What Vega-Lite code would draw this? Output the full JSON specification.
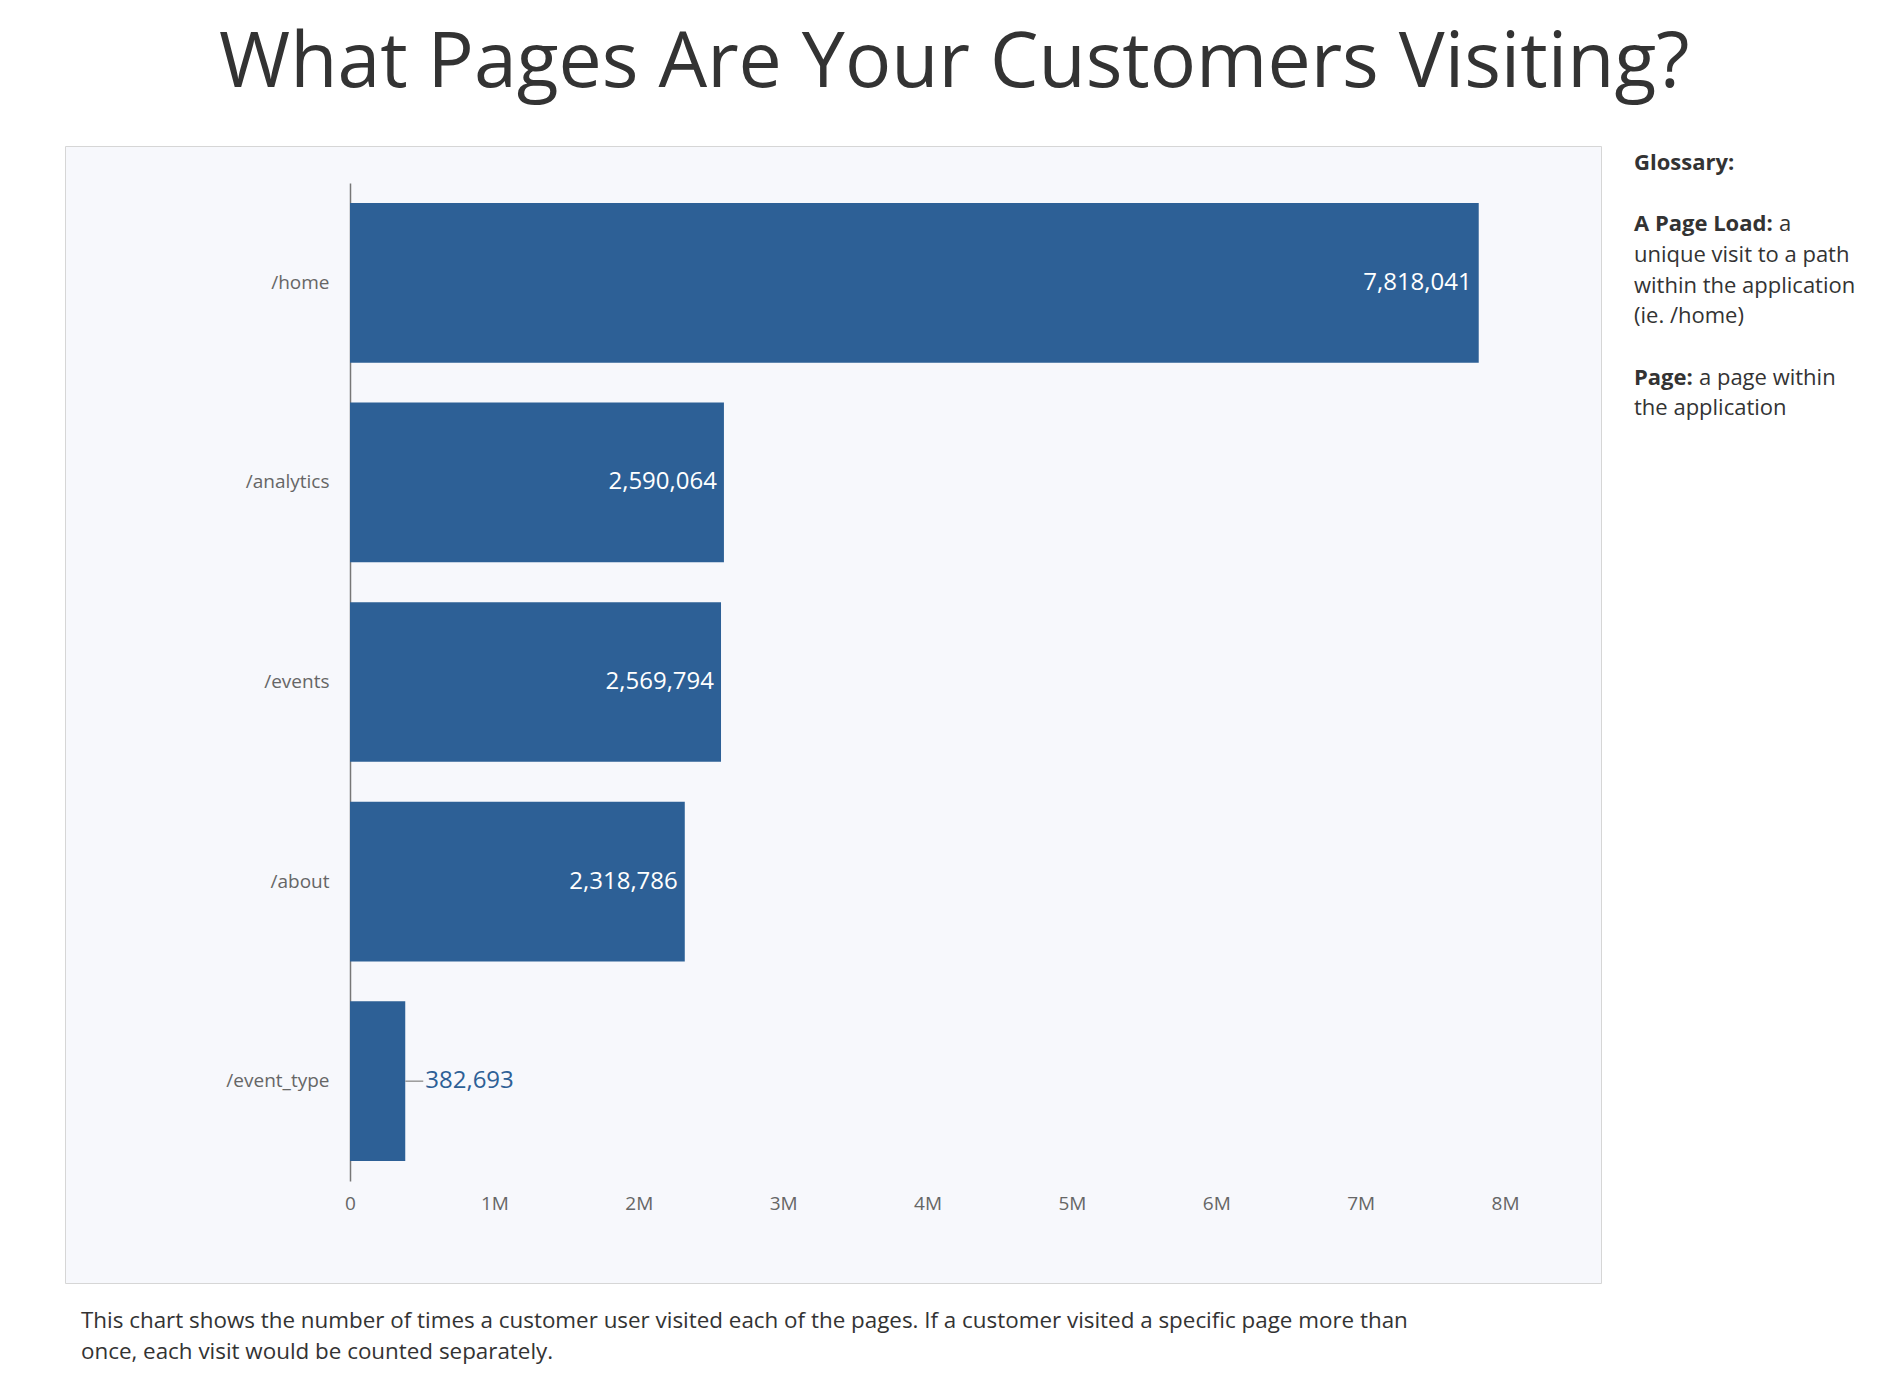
{
  "$schema": "https://vega.github.io/schema/vega-lite/v6.json",
  "background": "white",
  "padding": {"left": 64, "top": 24, "right": 0, "bottom": 0},
  "config": {"font": "Open Sans", "view": {"stroke": null}, "concat": {"spacing": 32}},
  "title": {"text": "What Pages Are Your Customers Visiting?", "fontSize": 77, "fontWeight": "normal", "color": "#333333", "anchor": "middle", "offset": 43, "dx": -10},
  "datasets": {
    "pages": [
      {"page": "/home", "visits": 7818041},
      {"page": "/analytics", "visits": 2590064},
      {"page": "/events", "visits": 2569794},
      {"page": "/about", "visits": 2318786},
      {"page": "/event_type", "visits": 382693}
    ],
    "glossary": [
      {"line": 0, "term": "", "role": "heading", "text": "Glossary:"},
      {"line": 2, "term": "A Page Load", "role": "term", "text": "A Page Load:"},
      {"line": 2, "term": "A Page Load", "role": "lead", "text": "a"},
      {"line": 3, "term": "A Page Load", "role": "definition", "text": "unique visit to a path"},
      {"line": 4, "term": "A Page Load", "role": "definition", "text": "within the application"},
      {"line": 5, "term": "A Page Load", "role": "definition", "text": "(ie. /home)"},
      {"line": 7, "term": "Page", "role": "term", "text": "Page:"},
      {"line": 7, "term": "Page", "role": "lead", "text": "a page within"},
      {"line": 8, "term": "Page", "role": "definition", "text": "the application"}
    ]
  },
  "hconcat": [
    {
      "width": 1536,
      "height": 1137,
      "view": {"fill": "#f7f8fc", "stroke": "#d6d6d6"},
      "title": {
        "text": ["This chart shows the number of times a customer user visited each of the pages. If a customer visited a specific page more than", "once, each visit would be counted separately."],
        "orient": "bottom", "anchor": "start", "fontSize": 22.4, "fontWeight": "normal", "color": "#333333",
        "lineHeight": 31, "offset": 27, "dx": 16, "baseline": "top"
      },
      "data": {"name": "pages"},
      "encoding": {
        "y": {
          "field": "page", "type": "nominal",
          "scale": {"domain": ["/home", "/analytics", "/events", "/about", "/event_type"], "range": [37, 1035], "paddingInner": 0.2, "paddingOuter": 0.1},
          "axis": {"title": null, "offset": -285, "domainColor": "#777777", "domainWidth": 1.5, "ticks": false, "tickSize": 0, "labelPadding": 21, "labelFontSize": 19, "labelColor": "#666666", "grid": false}
        },
        "x": {
          "field": "visits", "type": "quantitative",
          "scale": {"domain": [0, 8000000], "range": [285, 1440], "nice": false},
          "axis": {"title": null, "orient": "bottom", "offset": -102, "domain": false, "ticks": false, "tickSize": 0, "grid": false, "values": [0, 1000000, 2000000, 3000000, 4000000, 5000000, 6000000, 7000000, 8000000], "labelExpr": "datum.value == 0 ? '0' : (datum.value / 1000000) + 'M'", "labelFlush": false, "labelOverlap": false, "labelPadding": 13, "labelFontSize": 19, "labelColor": "#666666"}
        }
      },
      "layer": [
        {"mark": {"type": "bar", "color": "#2d6096"}},
        {
          "transform": [{"filter": "datum.visits >= 1000000"}],
          "mark": {"type": "text", "align": "right", "baseline": "middle", "dx": -7, "fontSize": 24, "color": "white"},
          "encoding": {"text": {"field": "visits", "type": "quantitative", "format": ","}}
        },
        {
          "transform": [{"filter": "datum.visits < 1000000"}],
          "mark": {"type": "rule", "x2Offset": 18, "color": "#999999", "strokeWidth": 1.5},
          "encoding": {"x2": {"field": "visits"}}
        },
        {
          "transform": [{"filter": "datum.visits < 1000000"}],
          "mark": {"type": "text", "align": "left", "baseline": "middle", "dx": 20, "fontSize": 24, "color": "#2d6096"},
          "encoding": {"text": {"field": "visits", "type": "quantitative", "format": ","}}
        }
      ]
    },
    {
      "width": 230,
      "height": 1137,
      "data": {"name": "glossary"},
      "encoding": {
        "x": {"datum": 0, "type": "quantitative", "scale": {"domain": [0, 1], "nice": false}, "axis": null},
        "y": {"field": "line", "type": "quantitative", "scale": {"domain": [-0.55, 36.49], "reverse": true, "nice": false, "zero": false}, "axis": null},
        "text": {"field": "text"}
      },
      "layer": [
        {
          "transform": [{"filter": "datum.role == 'heading' || datum.role == 'term'"}],
          "mark": {"type": "text", "align": "left", "baseline": "middle", "fontSize": 22, "fontWeight": "bold", "color": "#333333"}
        },
        {
          "transform": [{"filter": "datum.role == 'definition'"}],
          "mark": {"type": "text", "align": "left", "baseline": "middle", "fontSize": 22, "color": "#333333"}
        },
        {
          "transform": [{"filter": "datum.role == 'lead' && datum.term == 'A Page Load'"}],
          "mark": {"type": "text", "align": "left", "baseline": "middle", "fontSize": 22, "color": "#333333", "dx": 145}
        },
        {
          "transform": [{"filter": "datum.role == 'lead' && datum.term == 'Page'"}],
          "mark": {"type": "text", "align": "left", "baseline": "middle", "fontSize": 22, "color": "#333333", "dx": 65}
        }
      ]
    }
  ]
}
